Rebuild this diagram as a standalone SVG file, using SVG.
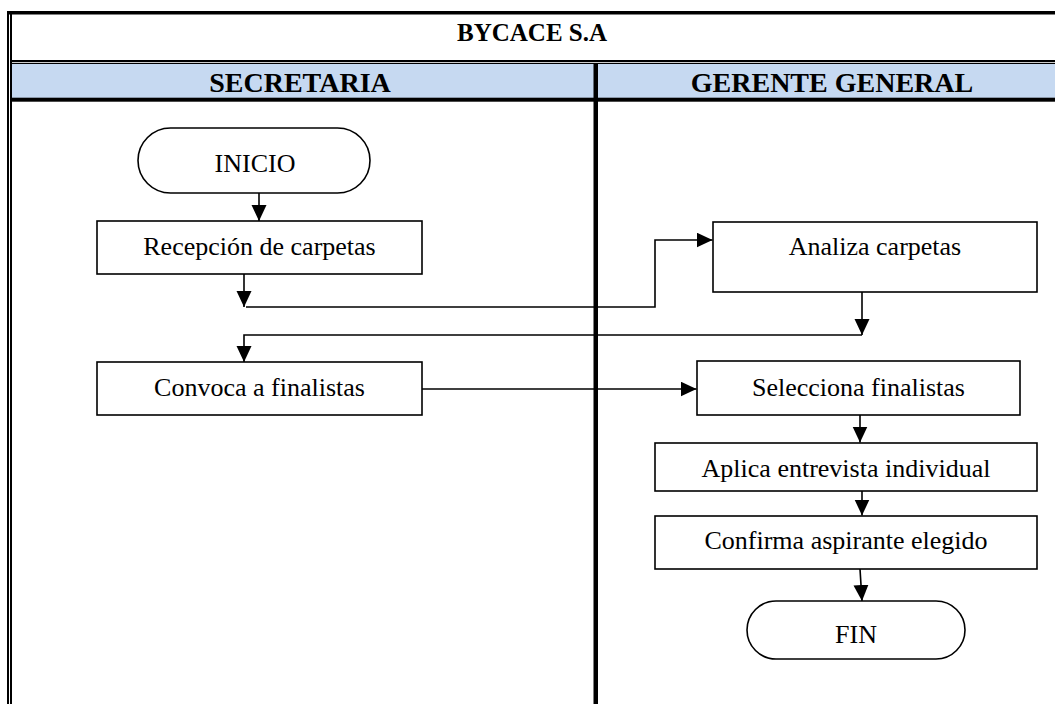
<svg xmlns="http://www.w3.org/2000/svg" width="1055" height="704" viewBox="0 0 1055 704">
  <style>
    .txt { font-family: "Liberation Serif", "Times New Roman", serif; fill: #000; }
    .title { font-size: 25px; font-weight: bold; text-anchor: middle; }
    .lane { font-size: 28px; font-weight: bold; text-anchor: middle; }
    .label { font-size: 26px; text-anchor: middle; }
    .box { fill: #fff; stroke: #000; stroke-width: 1.6; }
    .conn { fill: none; stroke: #000; stroke-width: 1.6; }
  </style>
  <defs>
    <marker id="arrow" markerUnits="userSpaceOnUse" markerWidth="17" markerHeight="16" refX="16" refY="7.5" orient="auto">
      <path d="M0,0 L16,7.5 L0,15 z" fill="#000"/>
    </marker>
  </defs>

  <rect width="1055" height="704" fill="#fff"/>

  <!-- table frame -->
  <g id="table">
    <rect x="12" y="64" width="1043" height="34" fill="#C6D9F1"/>
    <rect x="7" y="11" width="1048" height="3.5" fill="#000"/>
    <rect x="7" y="11" width="2" height="693" fill="#000"/>
    <rect x="10" y="14" width="2" height="690" fill="#000"/>
    <rect x="10" y="60" width="1045" height="2.2" fill="#000"/>
    <rect x="12" y="63" width="1043" height="1" fill="#000"/>
    <rect x="12" y="97.7" width="1043" height="4" fill="#000"/>
    <rect x="593.5" y="63" width="4.5" height="641" fill="#000"/>
    <text class="txt title" x="532" y="41">BYCACE S.A</text>
    <text class="txt lane" x="300" y="92">SECRETARIA</text>
    <text class="txt lane" x="832" y="92">GERENTE GENERAL</text>
  </g>

  <!-- connectors -->
  <g id="connectors">
    <path class="conn" d="M259,193 L259,221" marker-end="url(#arrow)"/>
    <path class="conn" d="M244,274 L244,307" marker-end="url(#arrow)"/>
    <path class="conn" d="M246,307 L655,307 L655,240 L712.5,240" marker-end="url(#arrow)"/>
    <path class="conn" d="M862,292 L862,335" marker-end="url(#arrow)"/>
    <path class="conn" d="M862,335 L244,335 L244,362" marker-end="url(#arrow)"/>
    <path class="conn" d="M422,389 L696.5,389" marker-end="url(#arrow)"/>
    <path class="conn" d="M860,415 L860,442.5" marker-end="url(#arrow)"/>
    <path class="conn" d="M862,491 L862,515.5" marker-end="url(#arrow)"/>
    <path class="conn" d="M860,569 L862,601" marker-end="url(#arrow)"/>
  </g>

  <g id="inicio">
    <rect class="box" x="138" y="128" width="232" height="65" rx="32.5" ry="32.5"/>
    <text class="txt label" x="255" y="172">INICIO</text>
  </g>

  <g id="recepcion">
    <rect class="box" x="97" y="221" width="325" height="53"/>
    <text class="txt label" x="259.5" y="255">Recepción de carpetas</text>
  </g>

  <g id="analiza">
    <rect class="box" x="713" y="222" width="324" height="70"/>
    <text class="txt label" x="875" y="255">Analiza carpetas</text>
  </g>

  <g id="convoca">
    <rect class="box" x="97" y="362" width="325" height="53"/>
    <text class="txt label" x="259.5" y="396">Convoca a finalistas</text>
  </g>

  <g id="selecciona">
    <rect class="box" x="697" y="361" width="323" height="54"/>
    <text class="txt label" x="858.5" y="396">Selecciona finalistas</text>
  </g>

  <g id="aplica">
    <rect class="box" x="655" y="443" width="382" height="48"/>
    <text class="txt label" x="846" y="477">Aplica entrevista individual</text>
  </g>

  <g id="confirma">
    <rect class="box" x="655" y="516" width="382" height="53"/>
    <text class="txt label" x="846" y="549">Confirma aspirante elegido</text>
  </g>

  <g id="fin">
    <rect class="box" x="747" y="601" width="218" height="58" rx="29" ry="29"/>
    <text class="txt label" x="856" y="643">FIN</text>
  </g>
</svg>
